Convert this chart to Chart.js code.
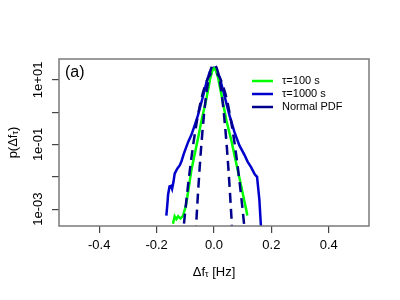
<!DOCTYPE html>
<html>
<head>
<meta charset="utf-8">
<script src="https://cdn.jsdelivr.net/npm/chart.js@4.4.0/dist/chart.umd.min.js"></script>
<style>
  html, body { margin: 0; padding: 0; background: #fff; }
  canvas { display: block; }
</style>
</head>
<body>
<canvas id="chart" width="400" height="300"></canvas>
<script>
// === Données ===
const greenX = [-0.143, -0.137, -0.131, -0.125, -0.117, -0.108, -0.098, -0.090, -0.079, -0.067, -0.056, -0.044, -0.026, -0.013, -0.006, 0, 0.006, 0.014, 0.025, 0.043, 0.061, 0.078, 0.095, 0.113, 0.116];
const greenY = [3.5e-4, 6.0e-4, 4.9e-4, 6.0e-4, 5.1e-4, 6.2e-4, 1.26e-3, 3.5e-3, 0.0158, 0.0513, 0.151, 0.525, 2.75, 11.2, 19.1, 22.9, 20.0, 12.0, 3.8, 0.562, 0.126, 0.0251, 5.0e-3, 8.9e-4, 6.3e-4];

const blueX = [-0.166, -0.162, -0.160, -0.155, -0.150, -0.146, -0.141, -0.137, -0.128, -0.119, -0.113, -0.105, -0.090, -0.079, -0.067, -0.056, -0.038, -0.026, -0.015, -0.007, 0, 0.008, 0.019, 0.036, 0.054, 0.071, 0.088, 0.106, 0.117, 0.129, 0.142, 0.150, 0.154, 0.158, 0.162, 0.164];
const blueY = [6.3e-4, 1.58e-3, 2.8e-3, 5.0e-3, 5.2e-3, 4.2e-3, 7.1e-3, 0.0126, 0.0178, 0.0229, 0.0309, 0.0525, 0.120, 0.195, 0.398, 0.794, 3.16, 8.5, 17.4, 22.9, 24.0, 20.0, 12.6, 3.31, 0.794, 0.245, 0.0955, 0.0479, 0.0295, 0.0200, 0.0120, 0.0100, 4.5e-3, 2.0e-3, 5.0e-4, 2.5e-4];

const normNarrowX = [-0.07, -0.065, -0.06, -0.055, -0.05, -0.045, -0.04, -0.035, -0.03, -0.025, -0.02, -0.015, -0.01, -0.005, 0, 0.005, 0.01, 0.015, 0.02, 0.025, 0.03, 0.035, 0.04, 0.045, 0.05, 0.055, 0.06, 0.065, 0.07];
const normNarrowY = [1.55e-5, 1.14e-4, 7.26e-4, 3.98e-3, 0.0188, 0.0767, 0.270, 0.818, 2.14, 4.83, 9.40, 15.8, 22.8, 28.5, 30.7, 28.5, 22.8, 15.8, 9.40, 4.83, 2.14, 0.818, 0.270, 0.0767, 0.0188, 3.98e-3, 7.26e-4, 1.14e-4, 1.55e-5];

const normWideX = [-0.12, -0.11, -0.10, -0.09, -0.08, -0.07, -0.06, -0.05, -0.04, -0.03, -0.02, -0.01, 0, 0.01, 0.02, 0.03, 0.04, 0.05, 0.06, 0.07, 0.08, 0.09, 0.10, 0.11, 0.12];
const normWideY = [1.18e-5, 1.15e-4, 9.12e-4, 5.96e-3, 0.0319, 0.140, 0.507, 1.50, 3.65, 7.29, 11.9, 16.1, 17.7, 16.1, 11.9, 7.29, 3.65, 1.50, 0.507, 0.140, 0.0319, 5.96e-3, 9.12e-4, 1.15e-4, 1.18e-5];

const xTicks = [-0.4, -0.2, 0, 0.2, 0.4];
const yTicks = [1e-3, 1e-2, 1e-1, 1, 10];
const yTickLabels = ['1e-03', '', '1e-01', '', '1e+01'];

const FONT = "'Liberation Sans', Arial, sans-serif";
const zip = (xs, ys) => xs.map((x, i) => ({ x: x, y: ys[i] }));

// === Cadre, étiquettes R et légende ===
const rStyle = {
    id: 'rStyle',
    afterDraw(chart) {
        const ctx = chart.ctx;
        const a = chart.chartArea;
        const yScale = chart.scales.y;
        ctx.save();

        // cadre
        ctx.strokeStyle = '#7a7a7a';
        ctx.lineWidth = 1.5;
        ctx.strokeRect(a.left, a.top, a.right - a.left, a.bottom - a.top);

        // étiquettes de l'axe y (verticales)
        ctx.fillStyle = '#000';
        ctx.font = '13px ' + FONT;
        ctx.textAlign = 'center';
        ctx.textBaseline = 'middle';
        yTicks.forEach((v, i) => {
            if (!yTickLabels[i]) return;
            const py = yScale.getPixelForValue(v);
            ctx.save();
            ctx.translate(38, py);
            ctx.rotate(-Math.PI / 2);
            ctx.fillText(yTickLabels[i], 0, 0);
            ctx.restore();
        });

        // titres d'axes avec indice tau
        drawSubText(ctx, [['p(Δf', 13, 0], ['τ', 9, 3], [')', 13, 0]], 13, (a.top + a.bottom) / 2, true);
        drawSubText(ctx, [['Δf', 13, 0], ['τ', 9, 3], [' [Hz]', 13, 0]], (a.left + a.right) / 2, 272, false);

        // (a)
        ctx.textAlign = 'left';
        ctx.textBaseline = 'alphabetic';
        ctx.font = '16px ' + FONT;
        ctx.fillText('(a)', 65, 77);

        // légende
        const entries = [
            { label: 'τ=100 s', color: chart.data.datasets[0].borderColor },
            { label: 'τ=1000 s', color: chart.data.datasets[1].borderColor },
            { label: 'Normal PDF', color: chart.data.datasets[2].borderColor }
        ];
        ctx.font = '11px ' + FONT;
        ctx.textBaseline = 'middle';
        entries.forEach((e, i) => {
            const ly = 81 + i * 13;
            ctx.strokeStyle = e.color;
            ctx.lineWidth = 2.5;
            ctx.beginPath();
            ctx.moveTo(252, ly);
            ctx.lineTo(273, ly);
            ctx.stroke();
            ctx.fillStyle = '#000';
            ctx.fillText(e.label, 282, ly);
        });
        ctx.restore();
    }
};

function drawSubText(ctx, parts, cx, cy, vertical) {
    ctx.save();
    ctx.translate(cx, cy);
    if (vertical) ctx.rotate(-Math.PI / 2);
    let total = 0;
    parts.forEach(p => { ctx.font = p[1] + 'px ' + FONT; total += ctx.measureText(p[0]).width; });
    let x = -total / 2;
    ctx.textAlign = 'left';
    ctx.textBaseline = 'middle';
    ctx.fillStyle = '#000';
    parts.forEach(p => {
        ctx.font = p[1] + 'px ' + FONT;
        ctx.fillText(p[0], x, p[2]);
        x += ctx.measureText(p[0]).width;
    });
    ctx.restore();
}

const lineBase = { pointRadius: 0, borderWidth: 2.5, tension: 0, fill: false, clip: 0 };

new Chart(document.getElementById('chart'), {
    type: 'line',
    data: {
        datasets: [
            { ...lineBase, label: 'τ=100 s', data: zip(greenX, greenY), borderColor: '#00ff00', order: 2 },
            { ...lineBase, label: 'τ=1000 s', data: zip(blueX, blueY), borderColor: '#0000cd', order: 3 },
            { ...lineBase, label: 'Normal PDF', data: zip(normNarrowX, normNarrowY), borderColor: '#00008b', borderDash: [10, 6], order: 1 },
            { ...lineBase, label: 'Normal PDF', data: zip(normWideX, normWideY), borderColor: '#00008b', borderDash: [10, 6], order: 1 }
        ]
    },
    options: {
        responsive: false,
        animation: false,
        layout: { padding: { left: 0, top: 59, right: 31, bottom: 0 } },
        plugins: { legend: { display: false }, tooltip: { enabled: false } },
        scales: {
            x: {
                type: 'linear',
                min: -0.54,
                max: 0.54,
                afterBuildTicks: s => { s.ticks = xTicks.map(v => ({ value: v })); },
                afterFit: s => { s.height = 74; },
                ticks: {
                    color: '#000',
                    font: { family: FONT, size: 13 },
                    padding: 5,
                    maxRotation: 0,
                    autoSkip: false,
                    callback: v => v.toFixed(1)
                },
                grid: { drawOnChartArea: false, drawTicks: true, tickLength: 7, tickColor: '#444', lineWidth: 1.2 },
                border: { display: false }
            },
            y: {
                type: 'logarithmic',
                min: 3.24e-4,
                max: 44.3,
                afterBuildTicks: s => { s.ticks = yTicks.map(v => ({ value: v })); },
                afterFit: s => { s.width = 59; },
                ticks: { display: false },
                grid: { drawOnChartArea: false, drawTicks: true, tickLength: 7, tickColor: '#444', lineWidth: 1.2 },
                border: { display: false }
            }
        }
    },
    plugins: [rStyle]
});
</script>
</body>
</html>
